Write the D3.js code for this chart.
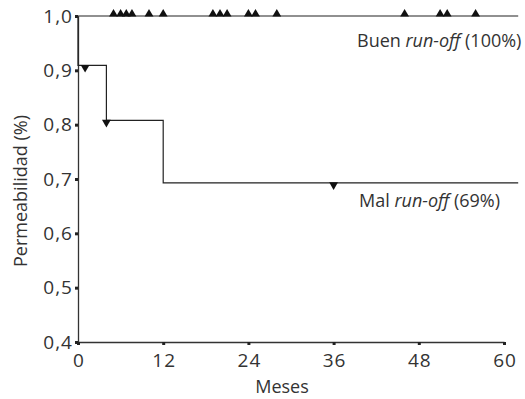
<!DOCTYPE html>
<html>
<head>
<meta charset="utf-8">
<script src="https://cdn.jsdelivr.net/npm/d3@7"></script>
<style>
body { margin: 0; background: #fff; }
text { font-family: "Open Sans", "Noto Sans", sans-serif; fill: #333; }
</style>
</head>
<body>
<script>
// data
const xTicks = [0, 12, 24, 36, 48, 60]
const yTicks = [0.4, 0.5, 0.6, 0.7, 0.8, 0.9, 1.0]

// good run-off: stays at 1.0, censored months
const goodCensored = [5, 6, 6.8, 7.6, 10, 12, 19, 20, 21, 24, 25, 28, 46, 51, 52, 56]

// bad run-off step curve
const badTimes = [0, 0, 4, 12]
const badSurv = [1.0, 0.909, 0.808, 0.693]
const badCensT = [1, 4, 36]
const badCensS = [0.909, 0.808, 0.693]
const lastMonth = 62

let margin = {top: 16, right: 21, bottom: 57, left: 78},
width = 525 - margin.left - margin.right,
height = 399 - margin.top - margin.bottom

let svg = d3.select("body").append("svg")
    .attr("width", 525)
    .attr("height", 399)
.append("g")
    .attr("transform", "translate(" + margin.left + "," + margin.top + ")")

let x = d3.scaleLinear().domain([0, 60]).range([0, 426])
let y = d3.scaleLinear().domain([0.4, 1.0]).range([326, 0])

let fmt = function (d) { return d3.format(".1f")(d).replace(".", ",") }

// axes
let xAxis = svg.append("g")
    .attr("transform", "translate(0," + y(0.4) + ")")
    .call(d3.axisBottom(x).tickValues(xTicks).tickSize(3).tickSizeOuter(0).tickPadding(9))
let yAxis = svg.append("g")
    .call(d3.axisLeft(y).tickValues(yTicks).tickFormat(fmt).tickSize(3).tickSizeOuter(0).tickPadding(2))

svg.selectAll(".domain").attr("stroke", "#333").attr("stroke-width", 1.3)
svg.selectAll(".tick line").attr("stroke", "#222").attr("stroke-width", 3)
svg.selectAll(".tick text").style("font-size", "19px").style("letter-spacing", "1px").attr("fill", "#333")
xAxis.selectAll(".tick text").attr("dx", "0.5px")

// good curve
svg.append("line")
    .attr("x1", x(0)).attr("x2", x(lastMonth))
    .attr("y1", y(1.0)).attr("y2", y(1.0))
    .attr("stroke", "#222").attr("stroke-width", 1.2)

let tri = d3.symbol().type(d3.symbolTriangle).size(34)

svg.selectAll(".goodMark")
    .data(goodCensored)
    .enter()
    .append("path")
    .attr("class", "goodMark")
    .attr("d", tri)
    .attr("transform", function (d) { return "translate(" + x(d) + "," + (y(1.0) - 2) + ")" })
    .attr("fill", "#111")

// bad curve
let badPts = badTimes.map(function (t, i) { return [t, badSurv[i]] })
badPts.push([lastMonth, badSurv[badSurv.length - 1]])
let line = d3.line()
    .x(function (d) { return x(d[0]) })
    .y(function (d) { return y(d[1]) })
    .curve(d3.curveStepAfter)

svg.append("path")
    .datum(badPts)
    .attr("d", line)
    .attr("fill", "none")
    .attr("stroke", "#222")
    .attr("stroke-width", 1.2)

svg.selectAll(".badMark")
    .data(badCensT)
    .enter()
    .append("path")
    .attr("class", "badMark")
    .attr("d", tri)
    .attr("transform", function (d, i) { return "translate(" + x(d) + "," + (y(badCensS[i]) + 2) + ") rotate(180)" })
    .attr("fill", "#111")

// labels
let buen = svg.append("text")
    .attr("x", 279).attr("y", 31)
    .style("font-size", "18px")
buen.append("tspan").text("Buen ")
buen.append("tspan").style("font-style", "italic").text("run-off")
buen.append("tspan").text(" (100%)")

let mal = svg.append("text")
    .attr("x", 281).attr("y", 191)
    .style("font-size", "18px")
mal.append("tspan").text("Mal ")
mal.append("tspan").style("font-style", "italic").text("run-off")
mal.append("tspan").text(" (69%)")

svg.append("text")
    .attr("x", 204).attr("y", 377)
    .attr("text-anchor", "middle")
    .style("font-size", "18px")
    .text("Meses")

svg.append("text")
    .attr("transform", "translate(-51," + 175 + ") rotate(-90)")
    .attr("text-anchor", "middle")
    .style("font-size", "18px")
    .text("Permeabilidad (%)")
</script>
</body>
</html>
